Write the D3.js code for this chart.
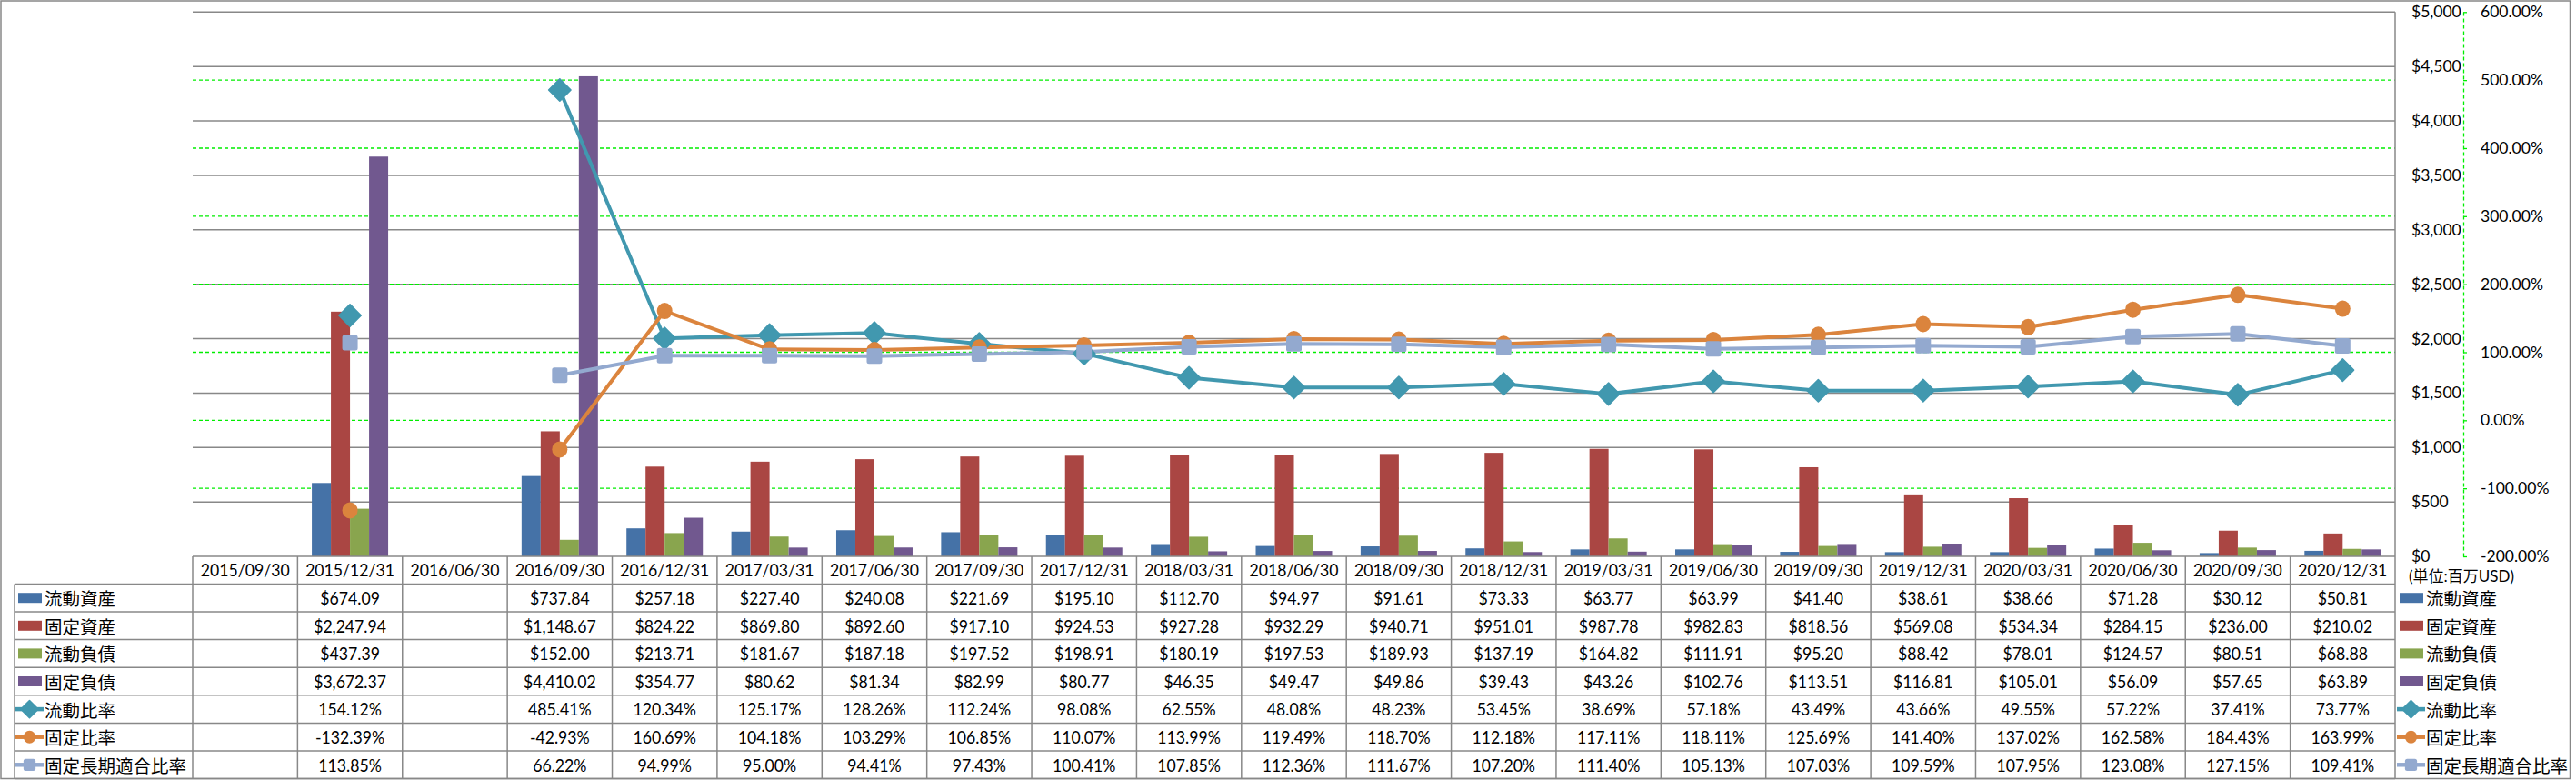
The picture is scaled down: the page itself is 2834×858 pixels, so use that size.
<!DOCTYPE html>
<html><head><meta charset="utf-8">
<script src="https://cdn.jsdelivr.net/npm/d3@7"></script>
<style>
html,body{margin:0;padding:0;background:#fff;}
svg{display:block;}
text{font-family:Lato,"Noto Sans CJK JP",sans-serif;fill:#000;}
.cjk{font-family:"Noto Sans CJK JP",sans-serif;}
</style></head>
<body>
<script>
// ---------------- DATA ----------------
const categories = ["2015/09/30","2015/12/31","2016/06/30","2016/09/30","2016/12/31","2017/03/31","2017/06/30","2017/09/30","2017/12/31","2018/03/31","2018/06/30","2018/09/30","2018/12/31","2019/03/31","2019/06/30","2019/09/30","2019/12/31","2020/03/31","2020/06/30","2020/09/30","2020/12/31"];
const currentAssets   = [null,674.09,null,737.84,257.18,227.40,240.08,221.69,195.10,112.70,94.97,91.61,73.33,63.77,63.99,41.40,38.61,38.66,71.28,30.12,50.81];
const fixedAssets     = [null,2247.94,null,1148.67,824.22,869.80,892.60,917.10,924.53,927.28,932.29,940.71,951.01,987.78,982.83,818.56,569.08,534.34,284.15,236.00,210.02];
const currentLiab     = [null,437.39,null,152.00,213.71,181.67,187.18,197.52,198.91,180.19,197.53,189.93,137.19,164.82,111.91,95.20,88.42,78.01,124.57,80.51,68.88];
const fixedLiab       = [null,3672.37,null,4410.02,354.77,80.62,81.34,82.99,80.77,46.35,49.47,49.86,39.43,43.26,102.76,113.51,116.81,105.01,56.09,57.65,63.89];
const currentRatio    = [null,154.12,null,485.41,120.34,125.17,128.26,112.24,98.08,62.55,48.08,48.23,53.45,38.69,57.18,43.49,43.66,49.55,57.22,37.41,73.77];
const fixedRatio      = [null,-132.39,null,-42.93,160.69,104.18,103.29,106.85,110.07,113.99,119.49,118.70,112.18,117.11,118.11,125.69,141.40,137.02,162.58,184.43,163.99];
const fixedLongRatio  = [null,113.85,null,66.22,94.99,95.00,94.41,97.43,100.41,107.85,112.36,111.67,107.20,111.40,105.13,107.03,109.59,107.95,123.08,127.15,109.41];
const barSeriesNames  = ["流動資産","固定資産","流動負債","固定負債"];
const lineSeriesNames = ["流動比率","固定比率","固定長期適合比率"];
const moneyTicks = [0,500,1000,1500,2000,2500,3000,3500,4000,4500,5000];
const pctTicks   = [-200,-100,0,100,200,300,400,500,600];
const unitLabel = "(単位:百万USD)";

// ---------------- LAYOUT / STYLE ----------------
const W = 2834, H = 858;
const plotL = 212, plotR = 2635, plotT = 13.3, plotB = 612;
const headerH = 30.4, rowH = 30.6, tableL = 16;
const barColors  = ["#4572A7","#AA4643","#89A54E","#71588F"];
const lineColors = ["#4198AF","#DB843D","#93A9CF"];
const gridGray = "#888888", green = "#00EE00";
const tableFont = 19, tableSX = 0.93;

const loc = d3.formatLocale({decimal:".",thousands:",",grouping:[3],currency:["$",""],minus:"-"});
const fMoney = loc.format("$,.2f"), fAxisMoney = loc.format("$,"), fPct = v => loc.format(".2f")(v) + "%";

const svg = d3.select("body").append("svg").attr("width", W).attr("height", H);

// scales
const xCell = d3.scaleBand().domain(categories).range([plotL, plotR]);
const x0 = d3.scaleBand().domain(categories).range([plotL, plotR]).paddingInner(0.272).paddingOuter(0.136);
const x1 = d3.scaleBand().domain(barSeriesNames).range([0, x0.bandwidth()]);
const yL = d3.scaleLinear().domain([0, 5000]).range([plotB, plotT]);
const yR = d3.scaleLinear().domain([-200, 600]).range([plotB, plotT]);
const cx = c => xCell(c) + xCell.bandwidth() / 2;

// outer border
svg.append("rect").attr("x",1).attr("y",1).attr("width",2826.5).attr("height",855.5)
  .attr("fill","none").attr("stroke",gridGray).attr("stroke-width",1.5);

// gray gridlines
svg.append("g").selectAll("line").data(moneyTicks.filter(v => v > 0)).join("line")
  .attr("x1", plotL).attr("x2", plotR).attr("y1", d => yL(d)).attr("y2", d => yL(d))
  .attr("stroke", gridGray).attr("stroke-width", 1.5);
// green dashed gridlines
svg.append("g").selectAll("line").data(pctTicks.filter(v => v > -200 && v < 600)).join("line")
  .attr("x1", plotL).attr("x2", plotR).attr("y1", d => yR(d)).attr("y2", d => yR(d))
  .attr("stroke", green).attr("stroke-width", 1.3).attr("stroke-dasharray", "4,3");

// bars
const barData = [currentAssets, fixedAssets, currentLiab, fixedLiab];
barData.forEach((arr, si) => {
  svg.append("g").attr("fill", barColors[si]).selectAll("rect")
    .data(categories.map((c, i) => ({c, v: arr[i]})).filter(d => d.v != null))
    .join("rect")
    .attr("x", d => x0(d.c) + x1(barSeriesNames[si]))
    .attr("width", x1.bandwidth())
    .attr("y", d => yL(d.v))
    .attr("height", d => yL(0) - yL(d.v));
});

// lines
const lineData = [currentRatio, fixedRatio, fixedLongRatio];
function drawMarker(sel, type, color, scale) {
  if (type === 0) {
    sel.append("path").attr("d", d3.symbol(d3.symbolSquare, 300 * scale * scale)())
      .attr("transform", "rotate(45)").attr("fill", color).attr("stroke", color)
      .attr("stroke-width", 1.5).attr("stroke-linejoin", "round");
  } else if (type === 1) {
    sel.append("ellipse").attr("rx", 8.5 * scale).attr("ry", 9 * scale).attr("fill", color);
  } else {
    const s = 17 * scale;
    sel.append("rect").attr("x", -s/2).attr("y", -s/2).attr("width", s).attr("height", s)
      .attr("rx", 2.5).attr("fill", color);
  }
}
lineData.forEach((arr, si) => {
  const pts = categories.map((c, i) => ({c, v: arr[i]}));
  const line = d3.line().defined(d => d.v != null).x(d => cx(d.c)).y(d => yR(d.v));
  svg.append("path").datum(pts).attr("d", line).attr("fill", "none")
    .attr("stroke", lineColors[si]).attr("stroke-width", 4).attr("stroke-linejoin", "round");
});
lineData.forEach((arr, si) => {
  const pts = categories.map((c, i) => ({c, v: arr[i]})).filter(d => d.v != null);
  svg.append("g").selectAll("g").data(pts).join("g")
    .attr("transform", d => `translate(${cx(d.c)},${yR(d.v)})`)
    .each(function(){ drawMarker(d3.select(this), si, lineColors[si], 1); });
});

// right $ axis (labels only)
const axL = svg.append("g").attr("transform", `translate(2653,0)`)
  .call(d3.axisRight(yL).tickValues(moneyTicks).tickFormat(fAxisMoney).tickSize(0).tickPadding(0));
axL.select(".domain").remove();
axL.selectAll("text").attr("font-size", 17.5).attr("font-family", "Lato");

// right % axis
const axR = svg.append("g").attr("transform", `translate(2710,0)`)
  .call(d3.axisRight(yR).tickValues(pctTicks).tickFormat(fPct).tickSize(4).tickSizeOuter(0).tickPadding(15));
axR.select(".domain").attr("stroke", green).attr("stroke-width", 1.3).attr("stroke-dasharray", "4,3");
axR.selectAll(".tick line").attr("stroke", green).attr("stroke-width", 1.3);
axR.selectAll("text").attr("font-size", 17.5).attr("font-family", "Lato")
  .attr("fill", d => d < 0 ? "#FF0000" : "#000");

// ---------------- DATA TABLE ----------------
const tableRows = [
  {name: barSeriesNames[0], vals: currentAssets, fmt: fMoney, kind: "bar", ci: 0},
  {name: barSeriesNames[1], vals: fixedAssets, fmt: fMoney, kind: "bar", ci: 1},
  {name: barSeriesNames[2], vals: currentLiab, fmt: fMoney, kind: "bar", ci: 2},
  {name: barSeriesNames[3], vals: fixedLiab, fmt: fMoney, kind: "bar", ci: 3},
  {name: lineSeriesNames[0], vals: currentRatio, fmt: fPct, kind: "line", ci: 0},
  {name: lineSeriesNames[1], vals: fixedRatio, fmt: fPct, kind: "line", ci: 1},
  {name: lineSeriesNames[2], vals: fixedLongRatio, fmt: fPct, kind: "line", ci: 2}
];
const tb = svg.append("g");
const rowsTop = plotB + headerH;
const tableB = rowsTop + rowH * tableRows.length;
// horizontal lines
tb.append("line").attr("x1", plotL).attr("x2", plotR).attr("y1", plotB).attr("y2", plotB)
  .attr("stroke", gridGray).attr("stroke-width", 1.5);
d3.range(tableRows.length + 1).forEach(i => {
  const y = rowsTop + i * rowH;
  tb.append("line").attr("x1", tableL).attr("x2", plotR).attr("y1", y).attr("y2", y)
    .attr("stroke", gridGray).attr("stroke-width", 1.5);
});
// vertical lines
categories.forEach(c => {
  tb.append("line").attr("x1", xCell(c)).attr("x2", xCell(c)).attr("y1", plotB).attr("y2", tableB)
    .attr("stroke", gridGray).attr("stroke-width", 1.5);
});
tb.append("line").attr("x1", plotR).attr("x2", plotR).attr("y1", plotT).attr("y2", tableB)
  .attr("stroke", gridGray).attr("stroke-width", 1.5);
tb.append("line").attr("x1", tableL).attr("x2", tableL).attr("y1", rowsTop).attr("y2", tableB)
  .attr("stroke", gridGray).attr("stroke-width", 1.5);

// header labels
tb.selectAll("text.hdr").data(categories).join("text").attr("class", "hdr")
  .attr("transform", d => `translate(${cx(d)},${plotB + headerH / 2}) scale(${tableSX},1)`)
  .attr("text-anchor", "middle").attr("dominant-baseline", "central")
  .attr("font-size", tableFont).text(d => d);

// rows
function legendSwatch(g, r, x0s) {
  if (r.kind === "bar") {
    g.append("rect").attr("x", x0s + 3).attr("y", -5.5).attr("width", 26).attr("height", 11)
      .attr("fill", barColors[r.ci]);
  } else {
    g.append("line").attr("x1", x0s).attr("x2", x0s + 31).attr("y1", 0).attr("y2", 0)
      .attr("stroke", lineColors[r.ci]).attr("stroke-width", 4.5);
    const m = g.append("g").attr("transform", `translate(${x0s + 15.5},0)`);
    drawMarker(m, r.ci, lineColors[r.ci], 0.78);
  }
}
tableRows.forEach((r, ri) => {
  const yc = rowsTop + ri * rowH + rowH / 2;
  const g = tb.append("g").attr("transform", `translate(0,${yc})`);
  legendSwatch(g, r, 17);
  g.append("text").attr("class", "cjk").attr("x", 49).attr("y", 0)
    .attr("dominant-baseline", "central").attr("font-size", 19.5).text(r.name);
  g.selectAll("text.v").data(categories.map((c, i) => ({c, v: r.vals[i]})).filter(d => d.v != null))
    .join("text").attr("class", "v")
    .attr("transform", d => `translate(${cx(d.c)},0) scale(${tableSX},1)`)
    .attr("text-anchor", "middle")
    .attr("dominant-baseline", "central").attr("font-size", tableFont).text(d => r.fmt(d.v));
  // right legend
  const lg = svg.append("g").attr("transform", `translate(0,${yc})`);
  legendSwatch(lg, r, 2637);
  lg.append("text").attr("class", "cjk").attr("x", 2669).attr("y", 0)
    .attr("dominant-baseline", "central").attr("font-size", 19.5).text(r.name);
});

// unit label
svg.append("text").attr("x", 2650).attr("y", plotB + headerH / 2 + 6)
  .attr("dominant-baseline", "central").attr("font-size", 17).text(unitLabel);
</script>
</body></html>
